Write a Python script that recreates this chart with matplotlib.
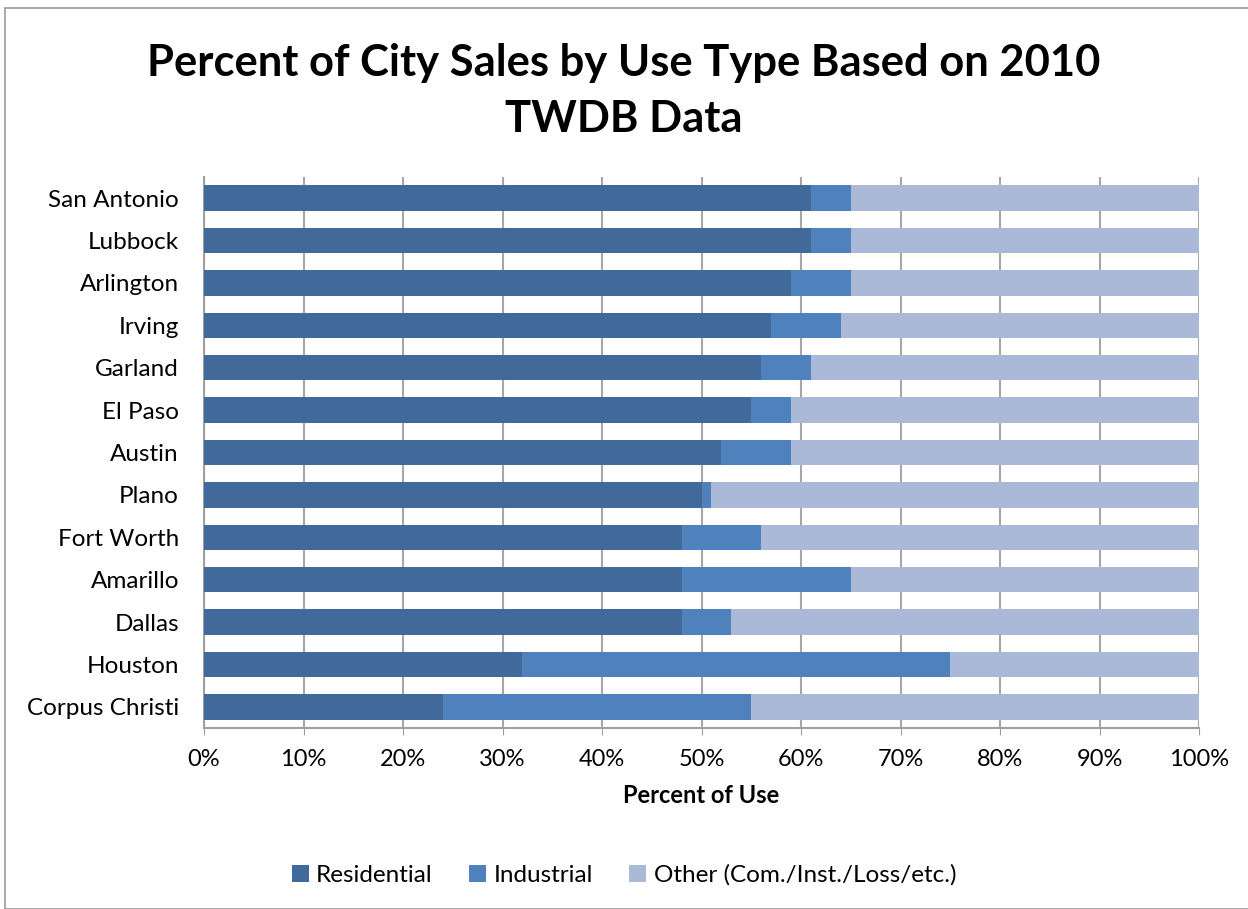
import matplotlib.pyplot as plt
import numpy as np
from matplotlib.patches import Rectangle

cities = ["San Antonio", "Lubbock", "Arlington", "Irving", "Garland", "El Paso", "Austin",
          "Plano", "Fort Worth", "Amarillo", "Dallas", "Houston", "Corpus Christi"]
residential = [61, 61, 59, 57, 56, 55, 52, 50, 48, 48, 48, 32, 24]
industrial = [4, 4, 6, 7, 5, 4, 7, 1, 8, 17, 5, 43, 31]
other = [100 - r - i for r, i in zip(residential, industrial)]

plt.rcParams['font.family'] = ['Lato', 'DejaVu Sans']

fig = plt.figure(figsize=(12.48, 9.09), dpi=100)
ax = fig.add_axes([204 / 1248, 1 - 728 / 909, (1199 - 204) / 1248, (728 - 177) / 909])

y = np.arange(len(cities))
h = 0.6
ax.barh(y, residential, height=h, color="#41699A", label="Residential", zorder=3)
ax.barh(y, industrial, left=residential, height=h, color="#4F81BD", label="Industrial", zorder=3)
left2 = [r + i for r, i in zip(residential, industrial)]
ax.barh(y, other, left=left2, height=h, color="#AAB9D7", label="Other (Com./Inst./Loss/etc.)", zorder=3)

ax.set_ylim(len(cities) - 0.5, -0.5)
ax.set_xlim(0, 100)
ax.set_yticks(y)
ax.set_yticklabels(cities, fontsize=17.5)
ax.set_xticks(np.arange(0, 101, 10))
ax.set_xticklabels([f"{v}%" for v in range(0, 101, 10)], fontsize=17)
ax.tick_params(axis="y", length=0, pad=18)
ax.tick_params(axis="x", length=5, color="#A0A0A0", pad=10)
ax.grid(axis="x", color="#A6A6A6", linewidth=1.5, zorder=0)
for s in ["top", "right"]:
    ax.spines[s].set_visible(False)
for s in ["left", "bottom"]:
    ax.spines[s].set_color("#A0A0A0")
    ax.spines[s].set_linewidth(1.5)
ax.set_xlabel("Percent of Use", fontsize=17, fontweight="bold", labelpad=10)

fig.text(0.5, 1 - 63 / 909, "Percent of City Sales by Use Type Based on 2010", ha="center", va="center",
         fontsize=31.3, fontweight="bold")
fig.text(0.5, 1 - 119 / 909, "TWDB Data", ha="center", va="center", fontsize=31.3, fontweight="bold")

fig.legend(loc="center", bbox_to_anchor=(0.5, 1 - 875 / 909), ncol=3, frameon=False, fontsize=17.5,
           handlelength=0.7, handleheight=0.7, handletextpad=0.3, columnspacing=1.5)

fig.patches.append(Rectangle((5 / 1248, 0), 1.2, 1 - 8 / 909, transform=fig.transFigure,
                             fill=False, edgecolor="#9A9A9A", linewidth=1.2))

fig.savefig("out.png", dpi=100)
